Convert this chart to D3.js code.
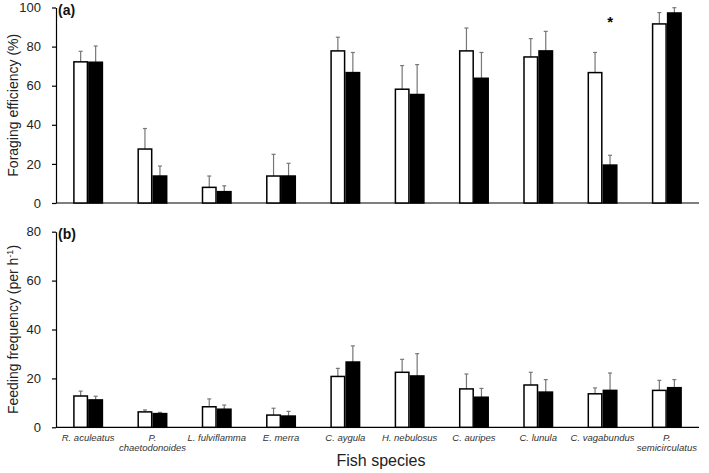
<!DOCTYPE html>
<html lang="en">
<head>
    <meta charset="UTF-8">
    <title>Foraging efficiency and feeding frequency by fish species</title>
    <script src="https://d3js.org/d3.v7.min.js"></script>
    <style>
        body { margin: 0; background: white; font-family: "Liberation Sans", Arial, sans-serif; }
        .tick text { font-size: 13px; fill: #222; }
        .cat-label { font-size: 9.5px; font-style: italic; fill: #333; }
    </style>
</head>
<body>
    <div id="chart"></div>
    <script>
        // data
        const species = ["R. aculeatus", "P. chaetodonoides", "L. fulviflamma", "E. merra", "C. aygula",
            "H. nebulosus", "C. auripes", "C. lunula", "C. vagabundus", "P. semicirculatus"];
        const speciesLines = [["R. aculeatus"], ["P.", "chaetodonoides"], ["L. fulviflamma"], ["E. merra"], ["C. aygula"],
            ["H. nebulosus"], ["C. auripes"], ["C. lunula"], ["C. vagabundus"], ["P.", "semicirculatus"]];

        // (a) foraging efficiency (%)
        const effWhite = [72.2, 27.6, 8.0, 13.8, 77.8, 58.2, 77.8, 74.7, 66.7, 91.6];
        const effWhiteErr = [5.4, 10.5, 5.8, 11.1, 7.0, 12.1, 11.7, 9.4, 10.3, 5.8];
        const effBlack = [72.0, 13.8, 5.8, 13.8, 66.7, 55.5, 63.8, 77.8, 19.4, 97.2];
        const effBlackErr = [8.3, 5.1, 3.0, 6.5, 10.3, 15.3, 13.2, 10.0, 5.0, 2.7];

        // (b) feeding frequency (per h-1)
        const freqWhite = [12.8, 6.3, 8.4, 5.0, 20.8, 22.5, 15.7, 17.3, 13.7, 15.1];
        const freqWhiteErr = [2.0, 0.8, 3.2, 2.8, 3.3, 5.3, 6.1, 5.2, 2.4, 4.1];
        const freqBlack = [11.2, 5.6, 7.4, 4.6, 26.7, 21.0, 12.3, 14.4, 15.1, 16.2];
        const freqBlackErr = [1.5, 0.5, 1.7, 1.9, 6.6, 9.1, 3.6, 5.1, 7.1, 3.3];

        const effTicks = [0, 20, 40, 60, 80, 100];
        const freqTicks = [0, 20, 40, 60, 80];
        const sigSpecies = ["C. vagabundus"];

        const width = 709, height = 473;
        const left = 56, right = 699;

        const svg = d3.select("#chart").append("svg")
            .attr("width", width)
            .attr("height", height);

        const x = d3.scaleBand().domain(species).range([left, right]).padding(0);
        const sub = d3.scaleBand().domain(["white", "black"]).range([-15, 15]);
        const cx = d => x(d) + x.bandwidth() / 2;

        function drawPanel(opts) {
            const y = d3.scaleLinear().domain([0, opts.max]).range([opts.bottom, opts.top]);
            const g = svg.append("g");

            // y axis
            g.append("g")
                .attr("transform", `translate(${left},0)`)
                .call(d3.axisLeft(y).tickValues(opts.ticks).tickSize(4).tickSizeOuter(0).tickPadding(11))
                .call(a => a.select(".domain").attr("stroke", "#000").attr("stroke-width", 1.2))
                .call(a => a.selectAll(".tick line").attr("stroke", "#000").attr("stroke-width", 1.2));

            // x axis baseline
            g.append("line")
                .attr("x1", left).attr("x2", right)
                .attr("y1", y(0)).attr("y2", y(0))
                .attr("stroke", "#000").attr("stroke-width", 1.2);

            const series = [
                { key: "white", vals: opts.white, errs: opts.whiteErr, fill: "#fff" },
                { key: "black", vals: opts.black, errs: opts.blackErr, fill: "#000" }
            ];

            series.forEach(s => {
                const rows = species.map((sp, i) => ({ sp, v: s.vals[i], e: s.errs[i] }));
                const bx = d => cx(d.sp) + sub(s.key);

                // error bars (upper only)
                g.selectAll(null).data(rows).enter().append("line")
                    .attr("x1", d => bx(d) + sub.bandwidth() / 2)
                    .attr("x2", d => bx(d) + sub.bandwidth() / 2)
                    .attr("y1", d => y(d.v)).attr("y2", d => y(d.v + d.e))
                    .attr("stroke", "#777").attr("stroke-width", 1.2);
                g.selectAll(null).data(rows).enter().append("line")
                    .attr("x1", d => bx(d) + sub.bandwidth() / 2 - 2)
                    .attr("x2", d => bx(d) + sub.bandwidth() / 2 + 2)
                    .attr("y1", d => y(d.v + d.e)).attr("y2", d => y(d.v + d.e))
                    .attr("stroke", "#777").attr("stroke-width", 1.2);

                g.selectAll(null).data(rows).enter().append("rect")
                    .attr("x", d => bx(d) + 0.75)
                    .attr("width", sub.bandwidth() - 1.5)
                    .attr("y", d => y(d.v))
                    .attr("height", d => y(0) - y(d.v))
                    .attr("fill", s.fill)
                    .attr("stroke", "#000")
                    .attr("stroke-width", 1.5);
            });

            // panel letter
            g.append("text")
                .attr("x", 58).attr("y", opts.top + 7)
                .attr("font-size", 14).attr("font-weight", "bold").attr("fill", "#111")
                .text(opts.letter);

            // y label
            const yl = g.append("text")
                .attr("transform", `translate(18,${(opts.top + opts.bottom) / 2}) rotate(-90)`)
                .attr("text-anchor", "middle")
                .attr("font-size", 14).attr("fill", "#222");
            yl.append("tspan").text(opts.label);
            if (opts.sup) {
                yl.append("tspan").attr("font-size", 9).attr("dy", -5).text(opts.sup);
                yl.append("tspan").attr("dy", 5).text(")");
            }
            return { g, y };
        }

        const pa = drawPanel({
            top: 7.5, bottom: 203, max: 100, ticks: effTicks, letter: "(a)",
            label: "Foraging efficiency (%)",
            white: effWhite, whiteErr: effWhiteErr, black: effBlack, blackErr: effBlackErr
        });
        drawPanel({
            top: 231.7, bottom: 427.3, max: 80, ticks: freqTicks, letter: "(b)",
            label: "Feeding frequency (per h", sup: "-1",
            white: freqWhite, whiteErr: freqWhiteErr, black: freqBlack, blackErr: freqBlackErr
        });

        // significance asterisk above the black bar
        pa.g.selectAll(null).data(sigSpecies).enter().append("text")
            .attr("x", d => cx(d) + sub("black") + sub.bandwidth() / 2)
            .attr("y", pa.y(90))
            .attr("text-anchor", "middle")
            .attr("font-size", 15).attr("font-weight", "bold")
            .text("*");

        // category labels
        const cat = svg.append("g");
        species.forEach((sp, i) => {
            const t = cat.append("text")
                .attr("class", "cat-label")
                .attr("x", cx(sp))
                .attr("y", 441)
                .attr("text-anchor", "middle");
            speciesLines[i].forEach((line, j) => {
                t.append("tspan").attr("x", cx(sp)).attr("dy", j === 0 ? 0 : 10).text(line);
            });
        });

        svg.append("text")
            .attr("x", 381).attr("y", 466)
            .attr("text-anchor", "middle")
            .attr("font-size", 16).attr("fill", "#222")
            .text("Fish species");
    </script>
</body>
</html>
